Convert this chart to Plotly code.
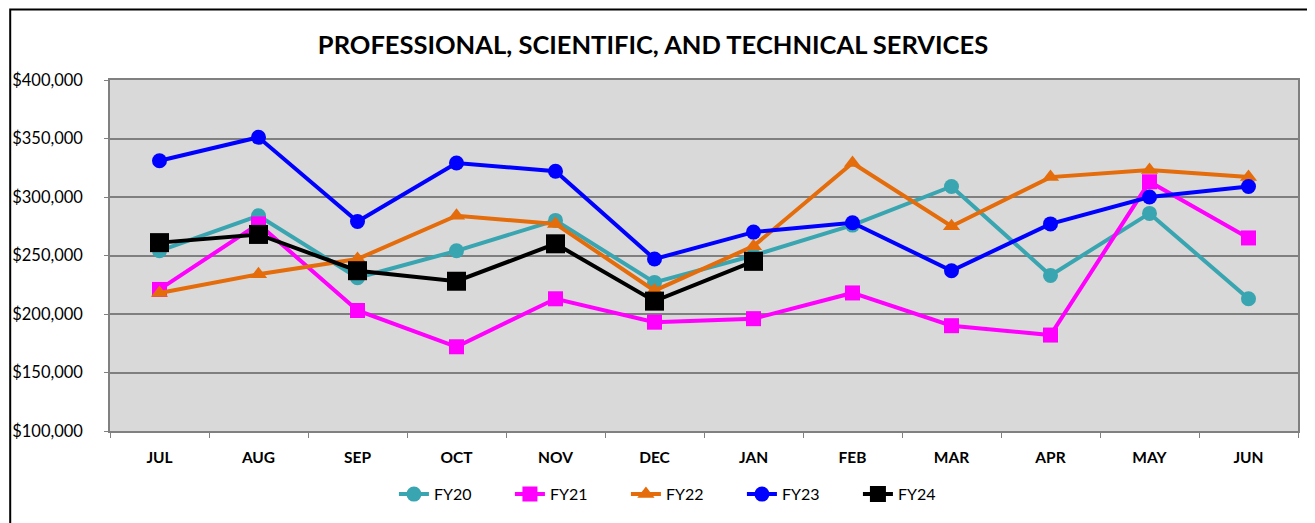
#!/usr/bin/env python3
"""Monthly revenue by fiscal year: professional, scientific and technical services."""

import plotly.graph_objects as go

MONTHS = ["JUL", "AUG", "SEP", "OCT", "NOV", "DEC", "JAN", "FEB", "MAR", "APR", "MAY", "JUN"]

FY20 = [254000, 284000, 231000, 254000, 280000, 227000, 250000, 276000, 309000, 233000, 286000, 213000]
FY21 = [221000, 277000, 203000, 172000, 213000, 193000, 196000, 218000, 190000, 182000, 313000, 265000]
FY22 = [218000, 234000, 247000, 284000, 277000, 220000, 258000, 329000, 275000, 317000, 323000, 317000]
FY23 = [331000, 351000, 279000, 329000, 322000, 247000, 270000, 278000, 237000, 277000, 300000, 309000]
FY24 = [261000, 268000, 237000, 228000, 260000, 211000, 245000]

Y_TICKS = [100000, 150000, 200000, 250000, 300000, 350000, 400000]
Y_TICK_TEXT = ["$100,000", "$150,000", "$200,000", "$250,000", "$300,000", "$350,000", "$400,000"]

FONT = "Lato, Open Sans, sans-serif"

SERIES = [
    ("FY20", FY20, "#38A5B0", "circle", 15),
    ("FY21", FY21, "#FF00FF", "square", 15),
    ("FY22", FY22, "#E46C0A", "triangle-up", 15),
    ("FY23", FY23, "#0000FF", "circle", 15),
    ("FY24", FY24, "#000000", "square", 19),
]


def main():
    fig = go.Figure()

    for name, vals, color, symbol, size in SERIES:
        fig.add_trace(go.Scatter(
            x=MONTHS[:len(vals)], y=vals, mode="lines+markers", name=name,
            line=dict(color=color, width=4),
            marker=dict(symbol=symbol, size=size, color=color),
        ))

    # outer chart frame (only the left and top edges show in the original)
    fig.add_shape(
        type="path", xref="paper", yref="paper",
        path="M -0.0840,-0.30 L -0.0840,1.201 L 1.05,1.201",
        line=dict(color="black", width=2),
    )

    # the page body adds an 8px offset, so the figure is 8px smaller than the window
    fig.update_layout(
        width=1307, height=515,
        margin=dict(l=102, r=17, t=72, b=90),
        paper_bgcolor="white",
        plot_bgcolor="#D9D9D9",
        font=dict(family=FONT, color="black", size=16),
        title=dict(
            text="<b>PROFESSIONAL, SCIENTIFIC, AND TECHNICAL SERVICES</b>",
            x=0.4935, xanchor="center", y=1 - 37 / 515, yanchor="middle",
            font=dict(family=FONT, size=25.5, color="black"),
        ),
        showlegend=True,
        legend=dict(
            orientation="h", x=0.239, xanchor="left", y=-0.18, yanchor="middle",
            font=dict(size=16), entrywidth=71, traceorder="normal",
        ),
        xaxis=dict(
            type="category", categoryorder="array", categoryarray=MONTHS,
            range=[-0.5, 11.5], showgrid=False, automargin=False,
            tickson="boundaries", ticks="outside", ticklen=5, tickcolor="#808080",
            ticklabelstandoff=12,
            showline=True, linecolor="#808080", linewidth=1.5, mirror=True,
            tickfont=dict(family=FONT, size=15.5, color="black", weight="bold"),
        ),
        yaxis=dict(
            range=[100000, 400000], tickvals=Y_TICKS, ticktext=Y_TICK_TEXT,
            showgrid=True, gridcolor="#7F7F7F", gridwidth=2, automargin=False,
            showline=True, linecolor="#808080", linewidth=1.5, mirror=True,
            ticks="outside", ticklen=4, tickcolor="#808080", zeroline=False,
            ticklabelstandoff=18,
            tickfont=dict(family=FONT, size=16.5, color="black"),
        ),
    )

    fig.write_html("out.html")


if __name__ == "__main__":
    main()
